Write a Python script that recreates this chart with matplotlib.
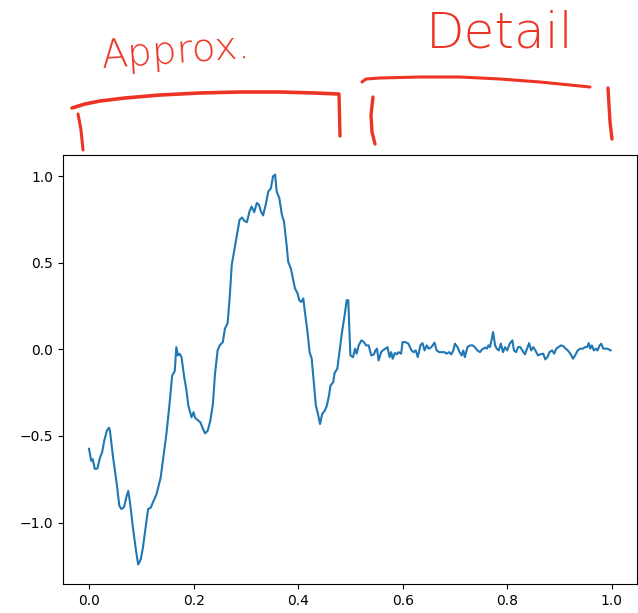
# сигнал: аппроксимация (первая половина) и детали (вторая половина)
import matplotlib
matplotlib.use('Agg')
import matplotlib.pyplot as plt

# значения по оси x
x = [0.000, 0.004, 0.007, 0.011, 0.016, 0.021, 0.025, 0.029, 0.034, 0.038,
     0.040, 0.046, 0.053, 0.058, 0.062, 0.067, 0.072, 0.075, 0.078, 0.084,
     0.090, 0.094, 0.099, 0.103, 0.109, 0.113, 0.118, 0.122, 0.129, 0.137,
     0.142, 0.148, 0.154, 0.159, 0.164, 0.167, 0.170, 0.173, 0.177, 0.182,
     0.186, 0.190, 0.196, 0.200, 0.203, 0.208, 0.213, 0.218, 0.222, 0.227,
     0.232, 0.237, 0.241, 0.246, 0.250, 0.256, 0.260, 0.265, 0.269, 0.273,
     0.278, 0.283, 0.288, 0.293, 0.297, 0.302, 0.307, 0.311, 0.316, 0.321,
     0.325, 0.329, 0.333, 0.338, 0.343, 0.348, 0.352, 0.356, 0.359, 0.364,
     0.369, 0.373, 0.378, 0.381, 0.386, 0.390, 0.394, 0.399, 0.402, 0.406,
     0.410, 0.413, 0.418, 0.422, 0.426, 0.430, 0.434, 0.438, 0.442, 0.446,
     0.451, 0.455, 0.459, 0.462, 0.467, 0.470, 0.475, 0.479, 0.484, 0.489,
     0.493, 0.496, 0.500,
     0.505, 0.509, 0.512, 0.516, 0.521, 0.526, 0.530, 0.535, 0.540, 0.545,
     0.548, 0.551, 0.554, 0.559, 0.562, 0.567, 0.571, 0.575, 0.578, 0.581,
     0.585, 0.589, 0.592, 0.597, 0.600, 0.605, 0.611, 0.617, 0.621, 0.625,
     0.629, 0.634, 0.638, 0.642, 0.646, 0.650, 0.655, 0.661, 0.665, 0.670,
     0.675, 0.680, 0.684, 0.689, 0.693, 0.697, 0.700, 0.705, 0.709, 0.713,
     0.716, 0.719, 0.724, 0.729, 0.734, 0.738, 0.743, 0.748, 0.752, 0.758,
     0.761, 0.764, 0.767, 0.770, 0.773, 0.777, 0.780, 0.784, 0.788, 0.792,
     0.796, 0.800, 0.805, 0.810, 0.813, 0.817, 0.821, 0.825, 0.829, 0.834,
     0.838, 0.842, 0.846, 0.850, 0.854, 0.859, 0.863, 0.869, 0.873, 0.877,
     0.881, 0.886, 0.890, 0.894, 0.898, 0.903, 0.908, 0.912, 0.916, 0.921,
     0.926, 0.930, 0.935, 0.940, 0.945, 0.949, 0.953, 0.956, 0.959, 0.962,
     0.966, 0.970, 0.973, 0.977, 0.980, 0.984, 0.988, 0.992, 0.998]

# значения сигнала
y = [-0.574, -0.643, -0.634, -0.690, -0.688, -0.624, -0.595, -0.528, -0.470, -0.452,
     -0.470, -0.624, -0.777, -0.904, -0.922, -0.910, -0.846, -0.817, -0.875, -1.030,
     -1.165, -1.242, -1.212, -1.146, -1.009, -0.922, -0.914, -0.885, -0.837, -0.740,
     -0.624, -0.489, -0.315, -0.151, -0.126, 0.013, -0.035, -0.025, -0.045, -0.160,
     -0.228, -0.325, -0.392, -0.363, -0.396, -0.408, -0.421, -0.460, -0.485, -0.470,
     -0.412, -0.315, -0.141, -0.006, 0.023, 0.042, 0.120, 0.149, 0.294, 0.487,
     0.574, 0.661, 0.748, 0.761, 0.742, 0.734, 0.796, 0.825, 0.792, 0.845,
     0.835, 0.796, 0.773, 0.835, 0.912, 0.930, 0.999, 1.009, 0.912, 0.873,
     0.777, 0.738, 0.603, 0.506, 0.468, 0.410, 0.352, 0.323, 0.284, 0.274,
     0.294, 0.216, 0.100, -0.016, -0.054, -0.190, -0.325, -0.373, -0.431, -0.373,
     -0.354, -0.325, -0.267, -0.209, -0.190, -0.135, -0.112, -0.016, 0.100, 0.197,
     0.284, 0.284, -0.035,
     -0.045, 0.004, -0.025, 0.023, 0.052, 0.042, 0.023, 0.023, -0.035, -0.029,
     -0.006, 0.004, -0.064, -0.016, -0.006, 0.004, 0.013, -0.045, -0.016, -0.054,
     -0.021, -0.029, -0.016, -0.025, 0.042, 0.042, 0.033, -0.006, -0.016, -0.006,
     -0.045, 0.023, 0.036, -0.006, 0.023, 0.004, 0.013, 0.039, -0.006, -0.016,
     -0.016, -0.016, -0.025, -0.016, -0.029, -0.006, 0.033, 0.013, -0.016, -0.035,
     -0.006, -0.045, 0.013, 0.023, 0.023, 0.013, -0.006, -0.016, 0.000, 0.010,
     0.004, 0.023, 0.013, 0.052, 0.100, 0.023, 0.004, -0.006, 0.033, -0.016,
     0.013, -0.006, 0.033, 0.052, -0.006, -0.016, 0.013, 0.013, -0.006, -0.029,
     0.004, 0.036, -0.006, 0.013, -0.006, -0.035, -0.029, -0.025, -0.058, -0.045,
     -0.016, -0.006, -0.025, 0.004, 0.013, 0.023, 0.017, 0.004, -0.006, -0.025,
     -0.054, -0.035, -0.006, 0.004, 0.004, 0.013, 0.013, 0.036, 0.004, 0.023,
     -0.006, 0.004, -0.006, 0.023, 0.033, 0.004, 0.004, 0.004, -0.006]

RED = '#ec3324'

fig = plt.figure(figsize=(6.38, 6.13), dpi=100)
ax = fig.add_axes([0.0987, 0.0473, 0.8993, 0.6997])
ax.plot(x, y, color='#1f77b4', linewidth=1.5)

# рукописные пометки поверх рисунка (в пикселях рисунка)
over = fig.add_axes([0, 0, 1, 1], zorder=5)
over.set_xlim(0, 638)
over.set_ylim(613, 0)
over.axis('off')
over.patch.set_alpha(0)

# скобка "Approx."
over.plot([72, 85, 100, 125, 160, 200, 240, 280, 315, 338],
          [108, 104, 101, 98, 95, 93, 92, 92, 93, 94],
          color=RED, lw=2.6, solid_capstyle='round')
over.plot([339, 340], [94, 136], color=RED, lw=2.4, solid_capstyle='round')
over.plot([78, 81, 83], [114, 130, 150], color=RED, lw=2.2, solid_capstyle='round')
# скобка "Detail"
over.plot([362, 366, 380, 420, 460, 500, 540, 570, 590],
          [82, 79, 78, 77, 77, 79, 82, 85, 87],
          color=RED, lw=2.2, solid_capstyle='round')
over.plot([373, 371, 372, 375], [97, 115, 132, 144], color=RED, lw=2.4, solid_capstyle='round')
over.plot([608, 609, 610, 612], [88, 105, 122, 139], color=RED, lw=2.4, solid_capstyle='round')

over.text(176, 52, 'Approx.', color=RED, fontsize=28, ha='center', va='center',
          rotation=4, fontweight='light', family='DejaVu Sans')
over.text(500, 34, 'Detail', color=RED, fontsize=36, ha='center', va='center',
          fontweight='light', family='DejaVu Sans')

plt.savefig('out.png', dpi=100)
